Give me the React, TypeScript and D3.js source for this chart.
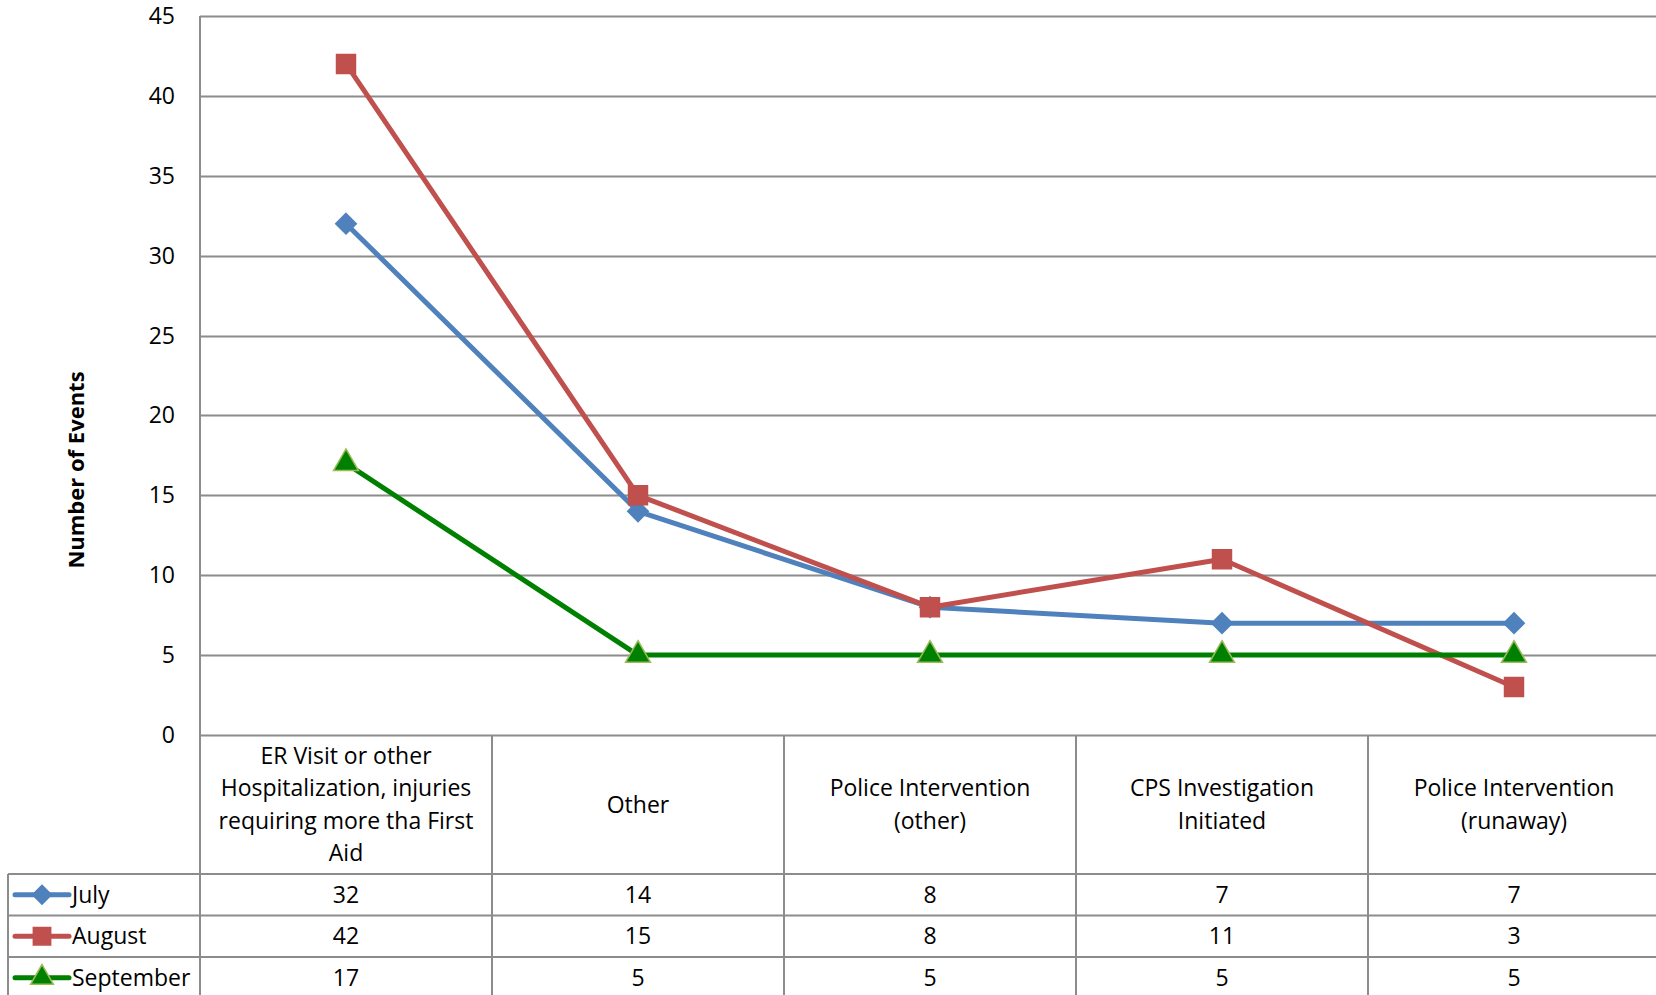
import * as d3 from 'd3'
import { useEffect, useRef } from 'react'

// categories (line breaks as shown in the chart's table header)
const categories = ['er', 'other', 'police-other', 'cps', 'police-runaway']
const categoryLines = [
  ['ER Visit or other', 'Hospitalization, injuries', 'requiring more tha First', 'Aid'],
  ['Other'],
  ['Police Intervention', '(other)'],
  ['CPS Investigation', 'Initiated'],
  ['Police Intervention', '(runaway)'],
]

const july = [32, 14, 8, 7, 7]
const august = [42, 15, 8, 11, 3]
const september = [17, 5, 5, 5, 5]

const yTicks = [0, 5, 10, 15, 20, 25, 30, 35, 40, 45]

const series = [
  { name: 'July', values: july, color: '#4F81BD', marker: 'diamond', fill: '#4F81BD', stroke: '#4F81BD' },
  { name: 'August', values: august, color: '#C0504D', marker: 'square', fill: '#C0504D', stroke: '#C0504D' },
  { name: 'September', values: september, color: '#008000', marker: 'triangle', fill: '#008000', stroke: '#9BBB59' },
]

const W = 1656
const H = 995
const FONT = '"Open Sans", Lato, sans-serif'
const FS = 23

export default function App() {
  const svgRef = useRef<SVGSVGElement>(null)

  useEffect(() => {
    const svg = d3.select(svgRef.current)
    svg.selectAll('*').remove()

    const left = 200
    const top = 16
    const bottom = 735
    const bandW = 292
    const headerBottom = 874
    const rowH = 41.5
    const tableLeft = 8
    const grid = '#8c8c8c'

    const x = d3.scaleBand<string>().domain(categories).range([left, left + bandW * categories.length])
    const y = d3.scaleLinear().domain([0, 45]).range([bottom, top])

    const g = svg.append('g')

    // horizontal grid lines
    g.selectAll('line.grid')
      .data(yTicks)
      .join('line')
      .attr('x1', left)
      .attr('x2', W)
      .attr('y1', (d) => Math.round(y(d)) + 0.5)
      .attr('y2', (d) => Math.round(y(d)) + 0.5)
      .attr('stroke', grid)
      .attr('stroke-width', 2)

    // y tick labels
    g.selectAll('text.ytick')
      .data(yTicks)
      .join('text')
      .attr('x', 175)
      .attr('y', (d) => y(d))
      .attr('dy', '0.35em')
      .attr('text-anchor', 'end')
      .attr('font-family', FONT)
      .attr('font-size', FS)
      .attr('fill', '#000')
      .text((d) => d)

    // y axis title
    g.append('text')
      .attr('transform', 'translate(76,470) rotate(-90)')
      .attr('text-anchor', 'middle')
      .attr('dy', '0.35em')
      .attr('font-family', FONT)
      .attr('font-size', 22)
      .attr('font-weight', 'bold')
      .text('Number of Events')

    // table: vertical lines
    const colEdges = d3.range(categories.length + 1).map((i) => left + i * bandW)
    g.selectAll('line.vcol')
      .data(colEdges)
      .join('line')
      .attr('x1', (d) => d)
      .attr('x2', (d) => d)
      .attr('y1', (d, i) => (i === 0 ? top : bottom))
      .attr('y2', H)
      .attr('stroke', grid)
      .attr('stroke-width', 2)

    g.append('line')
      .attr('x1', tableLeft).attr('x2', tableLeft)
      .attr('y1', headerBottom).attr('y2', H)
      .attr('stroke', grid).attr('stroke-width', 2)

    // table: horizontal lines
    const rowEdges = d3.range(series.length + 1).map((i) => headerBottom + i * rowH)
    g.selectAll('line.hrow')
      .data(rowEdges)
      .join('line')
      .attr('x1', tableLeft)
      .attr('x2', W)
      .attr('y1', (d) => d)
      .attr('y2', (d) => d)
      .attr('stroke', grid)
      .attr('stroke-width', 2)

    // category header text
    const headerMid = (bottom + headerBottom) / 2
    const lh = 32.5
    categories.forEach((c, i) => {
      const lines = categoryLines[i]
      const t = g.append('text')
        .attr('text-anchor', 'middle')
        .attr('font-family', FONT)
        .attr('font-size', FS)
        .attr('fill', '#000')
      lines.forEach((ln, j) => {
        t.append('tspan')
          .attr('x', x(c)! + x.bandwidth() / 2)
          .attr('y', headerMid + (j - (lines.length - 1) / 2) * lh)
          .attr('dy', '0.35em')
          .text(ln)
      })
    })

    // markers
    const symbolFor = (m: string, size: number) => {
      if (m === 'diamond') return d3.symbol().type(d3.symbolDiamond2).size(size * 0.75)()
      if (m === 'square') return d3.symbol().type(d3.symbolSquare).size(size)()
      return d3.symbol().type(d3.symbolTriangle).size(size * 0.75)()
    }

    // lines
    const line = d3.line<number>()
      .x((_, i) => x(categories[i])! + x.bandwidth() / 2)
      .y((d) => y(d))

    series.forEach((s) => {
      g.append('path')
        .datum(s.values)
        .attr('d', line)
        .attr('fill', 'none')
        .attr('stroke', s.color)
        .attr('stroke-width', 5)
        .attr('stroke-linejoin', 'round')
        .attr('stroke-linecap', 'round')

      g.selectAll(null)
        .data(s.values)
        .join('path')
        .attr('transform', (d, i) => `translate(${x(categories[i])! + x.bandwidth() / 2},${y(d)})`)
        .attr('d', symbolFor(s.marker, 360))
        .attr('fill', s.fill)
        .attr('stroke', s.stroke)
        .attr('stroke-width', 1.5)
    })

    // table rows: legend keys + values
    series.forEach((s, r) => {
      const cy = headerBottom + r * rowH + rowH / 2
      g.append('line')
        .attr('x1', 15).attr('x2', 69)
        .attr('y1', cy).attr('y2', cy)
        .attr('stroke', s.color)
        .attr('stroke-width', 5)
        .attr('stroke-linecap', 'round')
      g.append('path')
        .attr('transform', `translate(42,${cy})`)
        .attr('d', symbolFor(s.marker, 300))
        .attr('fill', s.fill)
        .attr('stroke', s.stroke)
        .attr('stroke-width', 1.5)
      g.append('text')
        .attr('x', 72)
        .attr('y', cy)
        .attr('dy', '0.35em')
        .attr('font-family', FONT)
        .attr('font-size', FS)
        .text(s.name)

      g.selectAll(null)
        .data(s.values)
        .join('text')
        .attr('x', (_, i) => x(categories[i])! + x.bandwidth() / 2)
        .attr('y', cy)
        .attr('dy', '0.35em')
        .attr('text-anchor', 'middle')
        .attr('font-family', FONT)
        .attr('font-size', FS)
        .text((d) => d)
    })
  }, [])

  return (
    <div style={{ position: 'fixed', left: 0, top: 0, width: W, height: H, background: '#fff' }}>
      <svg ref={svgRef} width={W} height={H} style={{ display: 'block' }} />
    </div>
  )
}
